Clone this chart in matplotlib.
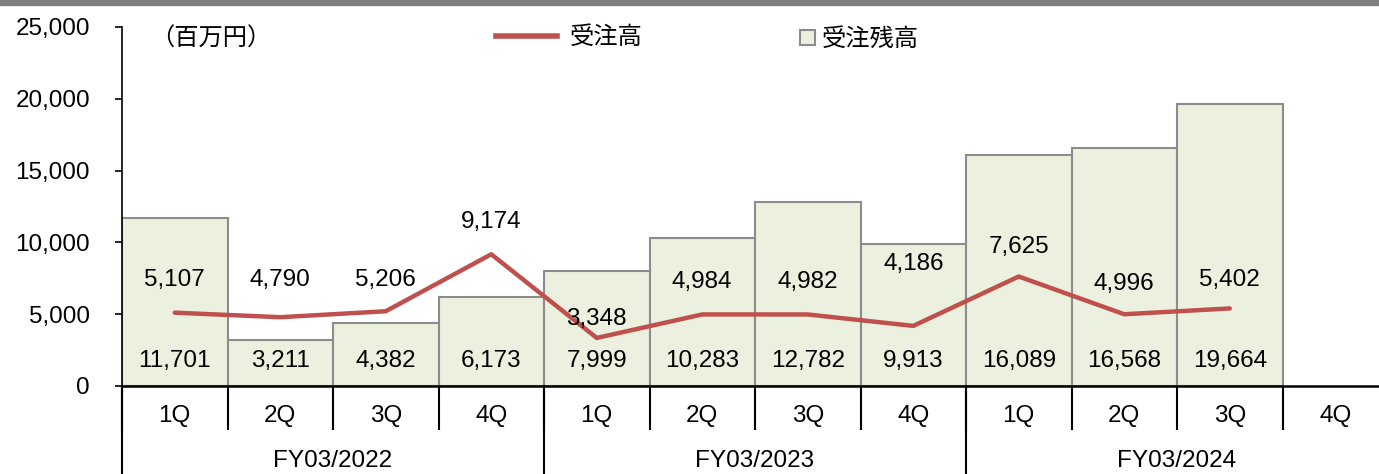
import matplotlib
matplotlib.use('Agg')
import matplotlib.pyplot as plt
from matplotlib.patches import Patch, Rectangle
from matplotlib.lines import Line2D
from matplotlib.ticker import FuncFormatter
import numpy as np

plt.rcParams['font.family'] = ['Liberation Sans', 'Noto Sans CJK JP']

### data
quarters = ['1Q', '2Q', '3Q', '4Q'] * 3
years = ['FY03/2022', 'FY03/2023', 'FY03/2024']
backlog = [11701, 3211, 4382, 6173, 7999, 10283, 12782, 9913, 16089, 16568, 19664]
orders = [5107, 4790, 5206, 9174, 3348, 4984, 4982, 4186, 7625, 4996, 5402]

# label offsets above the line points (pixels), as placed in the original
order_lab_off = [33, 37, 31, 32, 19, 32, 32, 62, 30, 30, 28]

FS = 17.5

fig = plt.figure(figsize=(13.79, 4.74), dpi=100)
ax = fig.add_axes([122/1379, 1-386/474, 1266/1379, 359/474])

x = np.arange(len(backlog))
ax.bar(x, backlog, width=1.0, color='#ebf1de', edgecolor='#8c8c8c', linewidth=1.5, zorder=2)
ax.plot(x, orders, color='#c0504d', linewidth=3.2, solid_capstyle='round', zorder=3)

for xi, v in zip(x, backlog):
    ax.annotate(f'{v:,}', (xi, 0), xytext=(0, 25), textcoords='offset pixels',
                ha='center', va='center', fontsize=FS, zorder=4)
for xi, v, off in zip(x, orders, order_lab_off):
    ax.annotate(f'{v:,}', (xi, v), xytext=(0, off), textcoords='offset pixels',
                ha='center', va='center', fontsize=FS, zorder=4)

ax.set_xlim(-0.5, 11.5)
ax.set_ylim(0, 25000)
ax.set_yticks(np.arange(0, 25001, 5000))
ax.yaxis.set_major_formatter(FuncFormatter(lambda v, p: f'{int(v):,}'))
ax.tick_params(axis='y', direction='out', length=5, width=1.2, labelsize=FS, pad=18)

ax.set_xticks(np.arange(12))
ax.set_xticklabels(quarters, fontsize=FS)
ax.tick_params(axis='x', which='major', length=0, pad=14)
ax.set_xticks(np.arange(-0.5, 12, 1), minor=True)
ax.tick_params(axis='x', which='minor', direction='out', length=32, width=1.5, color='black')

for s in ['top', 'right']:
    ax.spines[s].set_visible(False)
ax.spines['left'].set_linewidth(1.2)
ax.spines['bottom'].set_linewidth(1.8)

# fiscal year group labels and separators
trans = ax.get_xaxis_transform()
for i, yr in enumerate(years):
    ax.text(4*i + 1.5, -0.21, yr, transform=trans, ha='center', va='center', fontsize=FS)
for b in [-0.5, 3.5, 7.5, 11.5]:
    ax.plot([b, b], [0, -0.3], transform=trans, color='black', linewidth=1.5, clip_on=False)

ax.text(28/1266, 0.965, '（百万円）', transform=ax.transAxes, fontsize=FS, va='center')

leg1 = ax.legend(handles=[Line2D([], [], color='#c0504d', linewidth=4)], labels=['受注高'],
                 loc='center left', bbox_to_anchor=(374/1266, 0.97), frameon=False,
                 borderaxespad=0, borderpad=0,
                 fontsize=FS, handlelength=2.5, handletextpad=0.55)
ax.add_artist(leg1)
ax.legend(handles=[Patch(facecolor='#ebf1de', edgecolor='#8c8c8c', linewidth=1.5)], labels=['受注残高'],
          loc='center left', bbox_to_anchor=(678/1266, 0.965), frameon=False,
          borderaxespad=0, borderpad=0,
          fontsize=FS, handlelength=0.6, handleheight=0.6, handletextpad=0.3)

fig.patches.append(Rectangle((0, 1-5/474), 1, 5/474, transform=fig.transFigure,
                             color='#808080', zorder=0))

fig.savefig('out.png', dpi=100)
